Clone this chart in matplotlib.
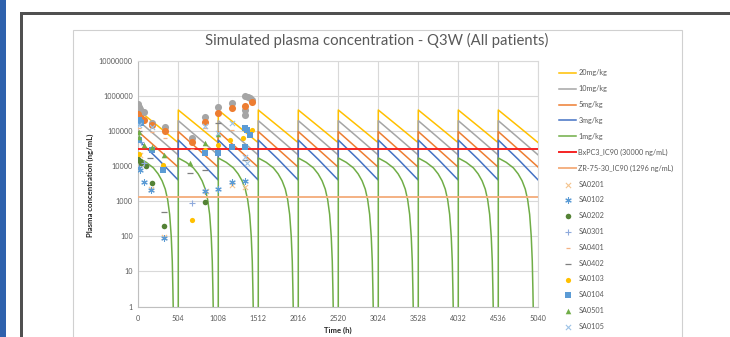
import matplotlib
matplotlib.use("Agg")
import matplotlib.pyplot as plt
from matplotlib.patches import Rectangle
from matplotlib.ticker import FixedLocator, FixedFormatter, NullLocator

plt.rcParams['font.family'] = ['Lato', 'DejaVu Sans']

# ---------------- data ----------------
dose_times = [0, 504, 1008, 1512, 2016, 2520, 3024, 3528, 4032, 4536]

# profile within one dosing interval (hours after dose)
prof_t = [0, 252, 503]
conc_20 = [396000, 136000, 46400]
conc_10 = [196000, 64000, 20700]
conc_5 = [96000, 30000, 9300]
conc_3 = [55000, 15500, 4000]

prof_t_1 = [0, 100, 190, 250, 300, 340, 370, 395, 415, 428, 436, 442, 503]
conc_1 = [17000, 12800, 8900, 6000, 3800, 2200, 1100, 420, 100, 20, 3, 0.5, 0.001]

bxpc3_ic90 = 30000
zr_ic90 = 1296

x_ticks = [0, 504, 1008, 1512, 2016, 2520, 3024, 3528, 4032, 4536, 5040]
y_ticks = [1, 10, 100, 1000, 10000, 100000, 1000000, 10000000]
y_tick_labels = ['1', '10', '100', '1000', '10000', '100000', '1000000', '10000000']

# patients: times (h) and concentrations (ng/mL)
sa0201_t = [20, 160, 330, 850, 1176, 1344]
sa0201_c = [21000, 2200, 93, 1900, 2900, 2600]
sa0102_t = [10, 20, 76, 160, 330, 840, 1008, 1176, 1344]
sa0102_c = [9000, 7700, 3600, 2100, 90, 1900, 2300, 3600, 3800]
sa0202_t = [0, 20, 40, 100, 168, 330, 840]
sa0202_c = [16000, 14000, 12000, 10000, 3200, 200, 950]
sa0301_t = [30, 70, 673]
sa0301_c = [49000, 12000, 870]
sa0401_t = [10, 168, 336, 673, 840, 1176]
sa0401_c = [120000, 95000, 62000, 30000, 120000, 107000]
sa0402_t = [10, 150, 330, 650, 840, 1008, 1344]
sa0402_c = [100000, 16600, 480, 6200, 7500, 165000, 15000]
sa0103_t = [5, 315, 673, 840, 1008, 1155, 1320, 1428]
sa0103_c = [22000, 10700, 290, 29000, 40000, 55000, 62000, 107000]
sa0104_t = [5, 20, 40, 10, 168, 315, 840, 1008, 1176, 1344, 1365, 1407, 1344]
sa0104_c = [200000, 185000, 170000, 55000, 29000, 7700, 23000, 23000, 35000, 120000, 107000, 77000, 36000]
sa0501_t = [5, 15, 70, 168, 330, 651, 840, 1008]
sa0501_c = [95000, 69000, 40000, 36000, 21000, 12000, 46000, 80000]
sa0105_t = [10, 168, 840, 1008, 1176, 1344, 1365]
sa0105_c = [150000, 130000, 140000, 85000, 170000, 18600, 12000]
other_gray_t = [0, 5, 20, 72, 168, 336, 673, 840, 1008, 1176, 1344, 1382, 1407, 1432, 1344, 1344]
other_gray_c = [600000, 490000, 420000, 355000, 165000, 132000, 62000, 257000, 490000, 616000, 1000000, 950000, 870000, 750000, 400000, 287000]
other_orange_t = [0, 10, 40, 72, 168, 336, 673, 840, 1008, 1176, 1344, 1430]
other_orange_c = [300000, 257000, 230000, 205000, 148000, 100000, 49000, 185000, 318000, 445000, 500000, 680000]


def build(times, concs):
    xs, ys = [], []
    for d in dose_times:
        for t, c in zip(times, concs):
            xs.append(d + t)
            ys.append(c)
    return xs, ys


W, H = 730, 337
fig = plt.figure(figsize=(W / 100, H / 100), dpi=100)


def fx(px):
    return px / W


def fy(py):
    return 1 - py / H


# background decorations (behind the axes)
fig.add_artist(Rectangle((0, 0), fx(6), 1, transform=fig.transFigure,
                         facecolor='#2f62ad', edgecolor='none', zorder=-10))
fig.add_artist(Rectangle((fx(20), 0), 3 / W, fy(12), transform=fig.transFigure,
                         facecolor='#505050', edgecolor='none', zorder=-10))
fig.add_artist(Rectangle((fx(20), fy(14.5)), 1, 2.5 / H, transform=fig.transFigure,
                         facecolor='#505050', edgecolor='none', zorder=-10))
fig.add_artist(Rectangle((fx(73), -0.2), fx(682) - fx(73), fy(30) + 0.2, transform=fig.transFigure,
                         facecolor='white', edgecolor='#d0d0d0', linewidth=0.8, zorder=-9))

ax = fig.add_axes([fx(138.3), fy(306.5), fx(538.3) - fx(138.3), fy(60.8) - fy(306.5)])
ax.set_zorder(1)
ax.patch.set_alpha(0)
ax.set_yscale('log')
ax.set_xlim(0, 5040)
ax.set_ylim(1, 10000000)

line_specs = [
    (conc_20, prof_t, '#ffc000', '20mg/kg', 1.1),
    (conc_10, prof_t, '#a5a5a5', '10mg/kg', 1.1),
    (conc_5, prof_t, '#ed7d31', '5mg/kg', 1.1),
    (conc_3, prof_t, '#4472c4', '3mg/kg', 1.1),
    (conc_1, prof_t_1, '#70ad47', '1mg/kg', 1.1),
]
handles = []
for conc, pt, col, lab, lw in line_specs:
    xs, ys = build(pt, conc)
    h, = ax.plot(xs, ys, color=col, lw=lw, label=lab, zorder=3)
    handles.append(h)

h, = ax.plot([0, 5040], [bxpc3_ic90, bxpc3_ic90], color='#f52424', lw=1.4,
             label='BxPC3_IC90 (30000 ng/mL)', zorder=3)
handles.append(h)
h, = ax.plot([0, 5040], [zr_ic90, zr_ic90], color='#f4b183', lw=1.4,
             label='ZR-75-30_IC90 (1296 ng/mL)', zorder=3)
handles.append(h)

# unlabeled extra patients (legend entries cut off in reference)
ax.scatter(other_gray_t, other_gray_c, marker='o', s=26, color='#a5a5a5', zorder=4, linewidths=0)
ax.scatter(other_orange_t, other_orange_c, marker='o', s=26, color='#ed7d31', zorder=4, linewidths=0)

scatter_specs = [
    (sa0201_t, sa0201_c, 'x', '#f4c48e', 'SA0201', 14, 0.8),
    (sa0102_t, sa0102_c, (6, 2, 0), '#5b9bd5', 'SA0102', 16, 0.8),
    (sa0202_t, sa0202_c, 'o', '#548235', 'SA0202', 16, 0),
    (sa0301_t, sa0301_c, '+', '#8faadc', 'SA0301', 16, 0.8),
    (sa0401_t, sa0401_c, '_', '#f4b183', 'SA0401', 12, 0.9),
    (sa0402_t, sa0402_c, '_', '#7f7f7f', 'SA0402', 14, 0.9),
    (sa0103_t, sa0103_c, 'o', '#ffc000', 'SA0103', 14, 0),
    (sa0104_t, sa0104_c, 's', '#5b9bd5', 'SA0104', 16, 0),
    (sa0501_t, sa0501_c, '^', '#70ad47', 'SA0501', 16, 0),
    (sa0105_t, sa0105_c, 'x', '#9dc3e6', 'SA0105', 14, 0.8),
]
for xs, ys, mk, col, lab, s, lw in scatter_specs:
    h = ax.scatter(xs, ys, marker=mk, s=s, color=col, label=lab, zorder=5, linewidths=lw)
    handles.append(h)

# axes styling
ax.yaxis.set_major_locator(FixedLocator(y_ticks))
ax.yaxis.set_major_formatter(FixedFormatter(y_tick_labels))
ax.yaxis.set_minor_locator(NullLocator())
ax.set_xticks(x_ticks)
ax.set_xticklabels([str(v) for v in x_ticks])
ax.grid(True, color='#d9d9d9', lw=0.8, zorder=0)
ax.set_axisbelow(True)
for sp in ax.spines.values():
    sp.set_color('#d9d9d9')
    sp.set_linewidth(0.8)
ax.spines['left'].set_color('#bfbfbf')
ax.spines['bottom'].set_color('#bfbfbf')
ax.tick_params(axis='both', length=0, labelsize=5.2, labelcolor='#595959', pad=4)
ax.tick_params(axis='x', pad=6)

fig.text(fx(90), fy(185), 'Plasma concentration (ng/mL)', rotation=90, ha='center', va='center',
         fontsize=5.6, fontweight='bold', color='#262626')
fig.text(fx(338), fy(330), 'Time (h)', ha='center', va='center',
         fontsize=5.6, fontweight='bold', color='#262626')

title = fig.text(fx(377), fy(40), 'Simulated plasma concentration - Q3W (All patients)',
                 ha='center', va='center', fontsize=11, color='#595959')
fig.canvas.draw()
bb = title.get_window_extent()
title.set_fontsize(11 * 344 / bb.width)

leg = fig.legend(handles=handles, loc='upper left', bbox_to_anchor=(fx(559), fy(69.5)),
                 frameon=False, fontsize=5.2, labelcolor='#595959', handlelength=2.4,
                 handletextpad=0.3, labelspacing=1.22, borderpad=0, borderaxespad=0,
                 scatterpoints=1, markerscale=1.0)

fig.savefig('out.png', dpi=100)
